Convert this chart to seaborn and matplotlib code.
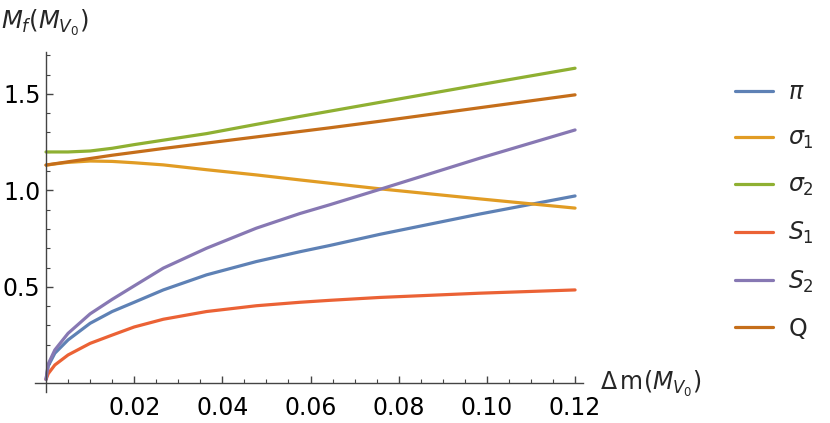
import pandas as pd
import seaborn as sns
import matplotlib
matplotlib.use("Agg")
import matplotlib.pyplot as plt
from matplotlib.ticker import FixedLocator, FormatStrFormatter

# mass splitting (in units of M_V0) where the curves were read
delta_m = [0, 0.0005, 0.002, 0.005, 0.01, 0.015, 0.02, 0.0266, 0.0364,
           0.0477, 0.0576, 0.0643, 0.0757, 0.0983, 0.12]

# masses
m_pi = [0.02, 0.09, 0.156, 0.225, 0.311, 0.372, 0.42, 0.484, 0.562,
        0.631, 0.682, 0.714, 0.772, 0.877, 0.971]
m_sigma1 = [1.131, 1.132, 1.137, 1.145, 1.152, 1.15, 1.143, 1.132, 1.107,
            1.08, 1.054, 1.037, 1.008, 0.956, 0.908]
m_sigma2 = [1.199, 1.199, 1.199, 1.199, 1.204, 1.218, 1.237, 1.26, 1.294,
            1.342, 1.383, 1.41, 1.456, 1.547, 1.633]
m_s1 = [0.02, 0.05, 0.095, 0.147, 0.207, 0.25, 0.292, 0.332, 0.372,
        0.402, 0.42, 0.43, 0.445, 0.467, 0.484]
m_s2 = [0.02, 0.10, 0.173, 0.259, 0.36, 0.435, 0.505, 0.597, 0.70,
        0.804, 0.88, 0.925, 1.005, 1.166, 1.313]
m_q = [1.131, 1.133, 1.138, 1.148, 1.165, 1.182, 1.197, 1.217, 1.245,
       1.277, 1.305, 1.324, 1.358, 1.428, 1.495]

labels = [r"$\pi$", r"$\sigma_1$", r"$\sigma_2$", r"$S_1$", r"$S_2$", "Q"]
series = [m_pi, m_sigma1, m_sigma2, m_s1, m_s2, m_q]
# Mathematica default palette (ColorData[97])
colors = ["#5E81B5", "#E19C24", "#8FB032", "#EB6235", "#8778B3", "#C56E1A"]

x_major = [0.02, 0.04, 0.06, 0.08, 0.10, 0.12]
y_major = [0.5, 1.0, 1.5]

sns.set_style("white")
plt.rcParams["font.family"] = ["DejaVu Sans"]
plt.rcParams["mathtext.fontset"] = "dejavusans"

fig = plt.figure(figsize=(8.3, 4.23), dpi=100)
ax = fig.add_axes([35 / 830, 31 / 423, 548 / 830, 340 / 423])

for vals, lab, col in zip(series, labels, colors):
    sns.lineplot(x=delta_m, y=vals, color=col, label=lab, linewidth=2.3, ax=ax)

ax.set_xlim(-0.0025, 0.1218)
ax.set_ylim(-0.045, 1.717)

# axes crossing at the origin, Mathematica style
for side in ["top", "right"]:
    ax.spines[side].set_visible(False)
ax.spines["left"].set_position(("data", 0))
ax.spines["bottom"].set_position(("data", 0))
for side in ["left", "bottom"]:
    ax.spines[side].set_color("#444444")
    ax.spines[side].set_linewidth(1.0)

ax.xaxis.set_major_locator(FixedLocator(x_major))
ax.xaxis.set_major_formatter(FormatStrFormatter("%.2f"))
ax.xaxis.set_minor_locator(FixedLocator([i * 0.005 for i in range(1, 25) if i % 4 != 0]))
ax.yaxis.set_major_locator(FixedLocator(y_major))
ax.yaxis.set_major_formatter(FormatStrFormatter("%.1f"))
ax.yaxis.set_minor_locator(FixedLocator([i * 0.1 for i in range(1, 18) if i % 5 != 0]))

ax.tick_params(which="both", bottom=True, left=True, direction="in",
               colors="#444444", labelcolor="black")
ax.tick_params(axis="x", which="major", length=4.8, width=1.0, pad=9.0, labelsize=17)
ax.tick_params(axis="y", which="major", length=4.8, width=1.0, pad=4.0, labelsize=17)
ax.tick_params(which="minor", length=3.0, width=0.8)
ax.set_xlabel("")
ax.set_ylabel("")

fig.text(600 / 830, 1 - 390 / 423, r"$\Delta\,\mathrm{m}(M_{V_0})$", fontsize=17,
         ha="left", va="baseline")
fig.text(1 / 830, 1 - 28.5 / 423, r"$M_f(M_{V_0})$", fontsize=17.5,
         ha="left", va="baseline")

ax.legend(loc="upper left", bbox_to_anchor=(735 / 830, 1 - 80 / 423),
          bbox_transform=fig.transFigure, frameon=False, fontsize=17,
          handlelength=1.61, handletextpad=0.64, labelspacing=0.93,
          borderpad=0, borderaxespad=0)

fig.savefig("out.png", dpi=100)
